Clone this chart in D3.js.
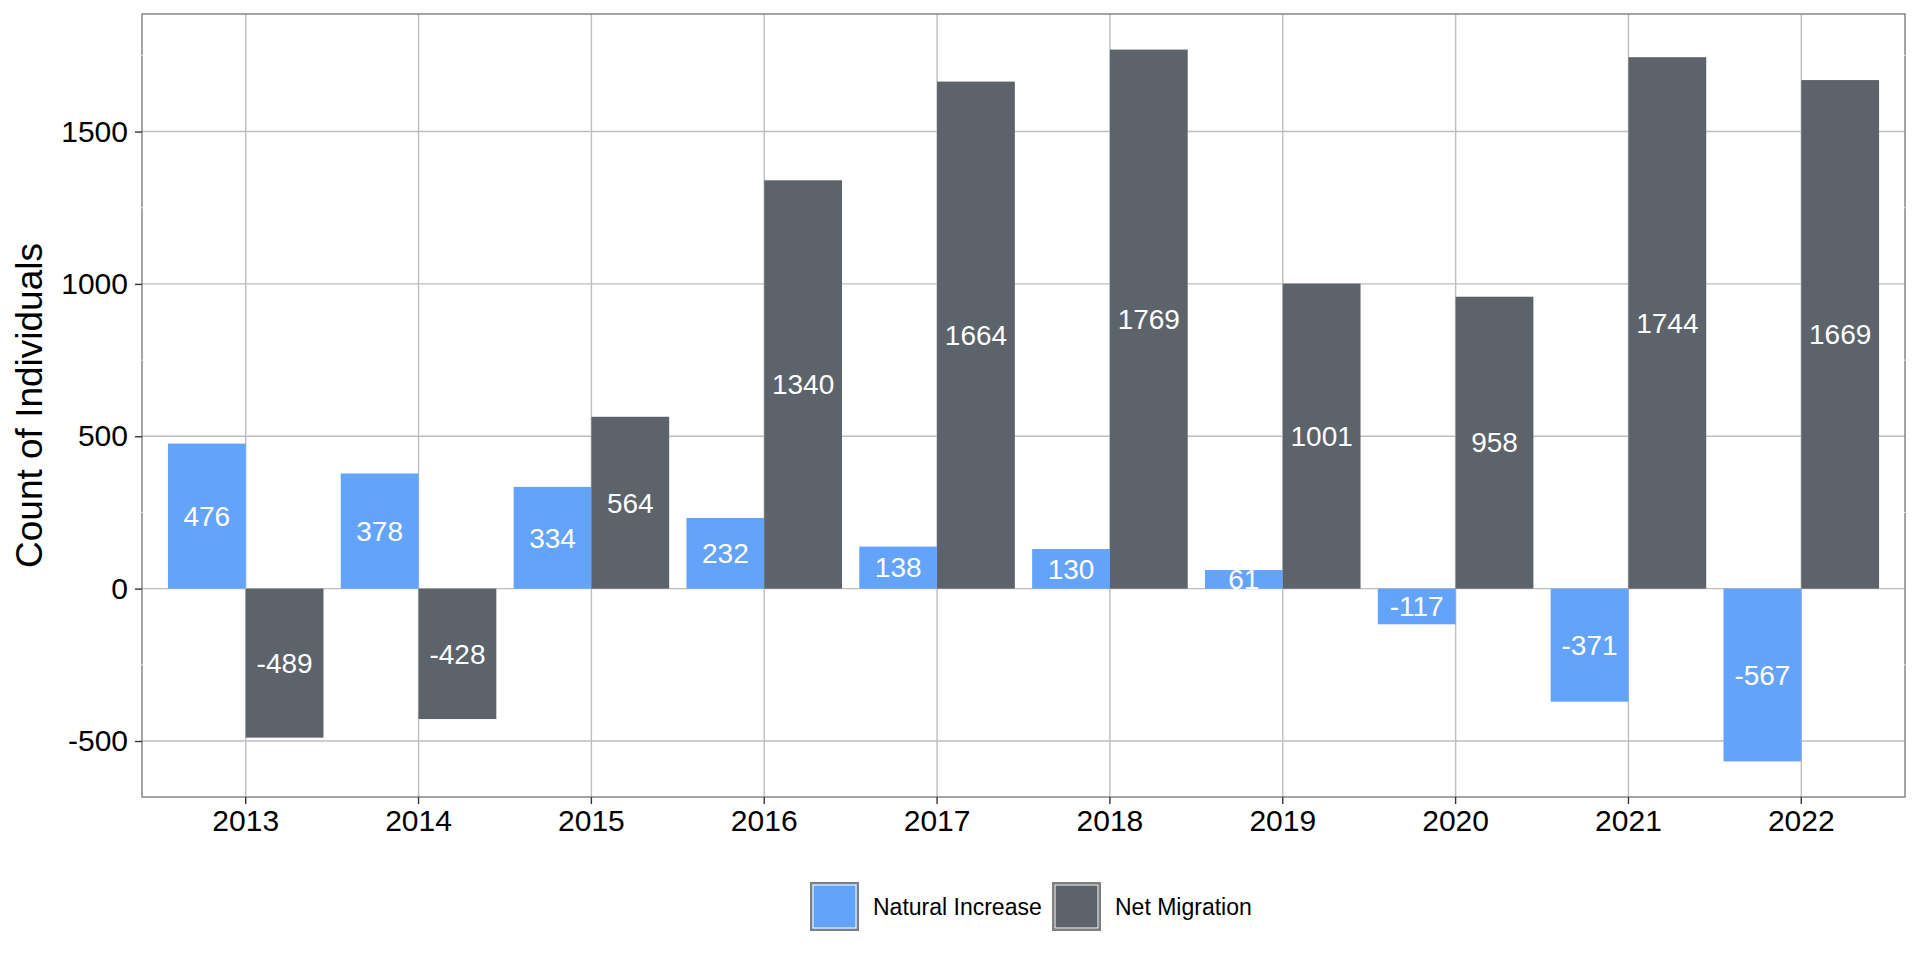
<!DOCTYPE html>
<html>
<head>
<meta charset="utf-8">
<script src="https://cdn.jsdelivr.net/npm/d3@7"></script>
<style>
  body { margin: 0; background: #fff; }
  svg { display: block; font-family: "Liberation Sans", Arial, sans-serif; }
</style>
</head>
<body>
<svg id="chart" width="1920" height="960"></svg>
<script>
// data
const years = ['2013', '2014', '2015', '2016', '2017', '2018', '2019', '2020', '2021', '2022'];
const naturalIncrease = [476, 378, 334, 232, 138, 130, 61, -117, -371, -567];
const netMigration = [-489, -428, 564, 1340, 1664, 1769, 1001, 958, 1744, 1669];
const seriesNames = ['Natural Increase', 'Net Migration'];
const seriesColours = ['#63a4fa', '#5c636a'];
const yTicks = [-500, 0, 500, 1000, 1500];
const yMinorTicks = [-250, 250, 750, 1250, 1750];

const config = { width: 1920, height: 960, left: 142, top: 14, right: 15, bottom: 163 };
const innerW = config.width - config.left - config.right;
const innerH = config.height - config.top - config.bottom;

const rows = [];
years.forEach((yr, i) => {
    rows.push({ year: yr, series: seriesNames[0], value: naturalIncrease[i] });
    rows.push({ year: yr, series: seriesNames[1], value: netMigration[i] });
});

const svg = d3.select('#chart');
const g = svg.append('g').attr('transform', `translate(${config.left},${config.top})`);

const x = d3.scaleBand()
    .domain(years)
    .range([0, innerW])
    .paddingInner(0)
    .paddingOuter(0.1);

const xSub = d3.scaleBand()
    .domain(seriesNames)
    .range([x.bandwidth() * 0.05, x.bandwidth() * 0.95]);

// ggplot style 5% expansion
const allVals = naturalIncrease.concat(netMigration);
const lo = d3.min(allVals), hi = d3.max(allVals);
const pad = (hi - lo) * 0.05;
const y = d3.scaleLinear().domain([lo - pad, hi + pad]).range([innerH, 0]);

const colour = d3.scaleOrdinal().domain(seriesNames).range(seriesColours);

// grid
g.append('g').selectAll('line.ygrid')
    .data(yTicks)
    .join('line')
    .attr('x1', 0).attr('x2', innerW)
    .attr('y1', d => y(d)).attr('y2', d => y(d))
    .attr('stroke', '#bebebe').attr('stroke-width', 1.4);

g.append('g').selectAll('line.xgrid')
    .data(years)
    .join('line')
    .attr('x1', d => x(d) + x.bandwidth() / 2).attr('x2', d => x(d) + x.bandwidth() / 2)
    .attr('y1', 0).attr('y2', innerH)
    .attr('stroke', '#bebebe').attr('stroke-width', 1.4);

// bars
g.append('g').selectAll('rect')
    .data(rows)
    .join('rect')
    .attr('x', d => x(d.year) + xSub(d.series))
    .attr('width', xSub.bandwidth())
    .attr('y', d => y(Math.max(0, d.value)))
    .attr('height', d => Math.abs(y(d.value) - y(0)))
    .attr('fill', d => colour(d.series));

// labels in the middle of each bar
g.append('g').selectAll('text')
    .data(rows)
    .join('text')
    .attr('x', d => x(d.year) + xSub(d.series) + xSub.bandwidth() / 2)
    .attr('y', d => y(d.value / 2))
    .attr('dy', '0.35em')
    .attr('text-anchor', 'middle')
    .style('fill', 'white')
    .style('font-size', '28px')
    .text(d => d.value);

// panel border
g.append('rect')
    .attr('x', 0).attr('y', 0)
    .attr('width', innerW).attr('height', innerH)
    .attr('fill', 'none')
    .attr('stroke', '#7f7f7f').attr('stroke-width', 1.4);

// minor grid is white, only shows as little notches on the border
[0, innerW].forEach(edge => {
    g.append('g').selectAll('line')
        .data(yMinorTicks)
        .join('line')
        .attr('x1', edge - 1).attr('x2', edge + 1)
        .attr('y1', d => y(d)).attr('y2', d => y(d))
        .attr('stroke', 'white').attr('stroke-width', 0.7);
});

// axes
const yAxis = g.append('g')
    .call(d3.axisLeft(y).tickValues(yTicks).tickSize(7).tickPadding(7).tickFormat(d => String(d)));
yAxis.select('.domain').remove();
yAxis.selectAll('line').attr('stroke', '#333').attr('stroke-width', 1.4);
yAxis.selectAll('text').style('font-size', '30px').style('fill', 'black').attr('font-family', null);

const xAxis = g.append('g')
    .attr('transform', `translate(0,${innerH})`)
    .call(d3.axisBottom(x).tickSize(7).tickPadding(6));
xAxis.select('.domain').remove();
xAxis.selectAll('line').attr('stroke', '#333').attr('stroke-width', 1.4);
xAxis.selectAll('text').style('font-size', '30px').style('fill', 'black').attr('font-family', null);

// y title
svg.append('text')
    .attr('transform', `translate(42,${config.top + innerH / 2}) rotate(-90)`)
    .attr('text-anchor', 'middle')
    .style('font-size', '37px')
    .style('fill', 'black')
    .text('Count of Individuals');

// legend
const legendX = [811, 1053];
const legend = svg.append('g').selectAll('g')
    .data(seriesNames)
    .join('g')
    .attr('transform', (d, i) => `translate(${legendX[i]},883)`);

legend.append('rect')
    .attr('width', 47).attr('height', 47)
    .attr('fill', d => colour(d))
    .attr('stroke', '#7f7f7f').attr('stroke-width', 2);

legend.append('rect')
    .attr('x', 2).attr('y', 2)
    .attr('width', 43).attr('height', 43)
    .attr('fill', 'none')
    .attr('stroke', 'white').attr('stroke-width', 1);

legend.append('text')
    .attr('x', 62)
    .attr('y', 23.5)
    .attr('dy', '0.35em')
    .style('font-size', '23px')
    .style('fill', 'black')
    .text(d => d);
</script>
</body>
</html>
